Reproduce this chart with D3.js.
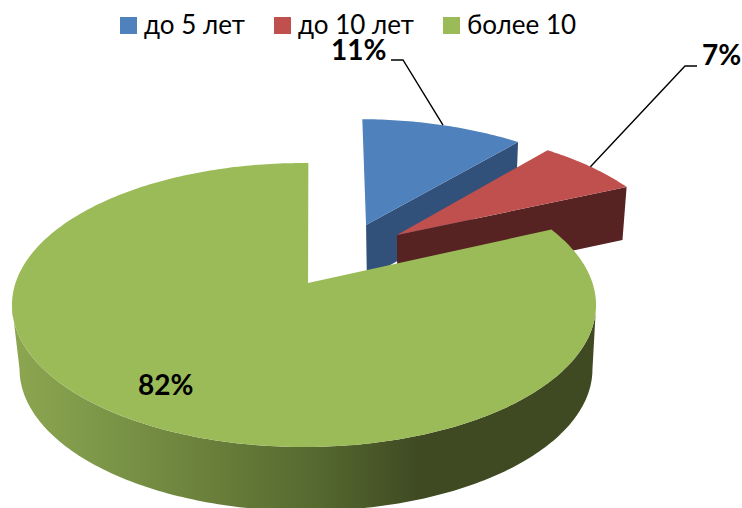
<!DOCTYPE html>
<html>
<head>
<meta charset="utf-8">
<script src="https://cdn.jsdelivr.net/npm/d3@7"></script>
<style>
    html, body { margin: 0; padding: 0; background: #fff; }
    svg { display: block; }
    text { font-family: Lato, "Open Sans", sans-serif; fill: #000; }
</style>
</head>
<body>
<div id="chart"></div>
<script>
const categories = ["до 5 лет", "до 10 лет", "более 10"];
const shares = [11, 7, 82];
const shareLabels = ["11%", "7%", "82%"];
const topColors = ["#4f81bd", "#c0504d", "#9bbb59"];
const sideColors = ["#31507a", "#562222", "#3f4a22"];

// pulled-out offsets of the slices, in disc units (u to the right, v to the back)
const explodeU = [0.23, 0.3406, 0];
const explodeV = [0.4475, 0.366, 0];

const width = 742;
const height = 508;

const svg = d3.select("#chart").append("svg")
    .attr("width", width)
    .attr("height", height);

// Perspective of the disc: the faces are planes of the same cylinder.
// The pulled-out slices sit further back so their wall reads a bit shorter.
const persp = 0.155;
const topPlane = { x0: 304, y0: 283, a: 288.5, b: 138.6 };
const bottomPlane = { x0: 306, y0: 347, a: 283, b: 138.6 };
const pulledBottomPlane = { x0: 306, y0: 336, a: 283, b: 138.6 };

function project(u, v, plane) {
    const w = 1 + persp * v;
    return [plane.x0 + plane.a * u / w, plane.y0 - plane.b * v / w];
}

const tilt = Math.PI / 180; // the first slice starts a degree past 12 o'clock
const arcs = d3.pie().sort(null).value(d => d)
    .startAngle(tilt).endAngle(tilt + 2 * Math.PI)(shares);

function rimPoints(arc, i, plane) {
    const n = Math.max(8, Math.ceil((arc.endAngle - arc.startAngle) * 60));
    return d3.range(n + 1).map(k => {
        const t = arc.startAngle + (arc.endAngle - arc.startAngle) * k / n;
        return project(Math.sin(t) + explodeU[i], Math.cos(t) + explodeV[i], plane);
    });
}

// only the rim between the right and left extremes faces the viewer
function frontRim(points) {
    return points.slice(d3.greatestIndex(points, p => p[0]), d3.leastIndex(points, p => p[0]) + 1);
}

const line = d3.line().curve(d3.curveLinear);

const defs = svg.append("defs");
const wallGradient = defs.append("linearGradient")
    .attr("id", "green-wall")
    .attr("gradientUnits", "userSpaceOnUse")
    .attr("x1", 15).attr("x2", 600)
    .attr("y1", 0).attr("y2", 0);
wallGradient.append("stop").attr("offset", "0%").attr("stop-color", "#8ca550");
wallGradient.append("stop").attr("offset", "12%").attr("stop-color", "#7f9a4a");
wallGradient.append("stop").attr("offset", "33%").attr("stop-color", "#6a803b");
wallGradient.append("stop").attr("offset", "52%").attr("stop-color", "#55682f");
wallGradient.append("stop").attr("offset", "69%").attr("stop-color", "#3f4a22");
wallGradient.append("stop").attr("offset", "100%").attr("stop-color", "#3f4a22");

// Blue and red: cut face towards the viewer, then the top
arcs.slice(0, 2).forEach((arc, i) => {
    const apexTop = project(explodeU[i], explodeV[i], topPlane);
    const apexBottom = project(explodeU[i], explodeV[i], pulledBottomPlane);
    const topRim = rimPoints(arc, i, topPlane);
    const bottomRim = rimPoints(arc, i, pulledBottomPlane);

    svg.append("path")
        .attr("d", line([apexTop, topRim[topRim.length - 1], bottomRim[bottomRim.length - 1], apexBottom]) + "Z")
        .attr("fill", sideColors[i]);

    svg.append("path")
        .attr("d", line([apexTop, ...topRim]) + "Z")
        .attr("fill", topColors[i]);
});

// Green: outer wall with the shading, then the top with its slightly shifted corner
const greenArc = arcs[2];
const greenTop = rimPoints(greenArc, 2, topPlane);
const greenBottom = rimPoints(greenArc, 2, bottomPlane);

svg.append("path")
    .attr("d", line([...frontRim(greenTop), ...frontRim(greenBottom).reverse()]) + "Z")
    .attr("fill", "url(#green-wall)");

svg.append("path")
    .attr("d", line([project(0.014, 0, topPlane), ...greenTop]) + "Z")
    .attr("fill", topColors[2]);

// Leader lines go from the rim middle of each pulled-out slice to its label
const elbows = [[[403, 60], [391, 60]], [[685, 66], [697, 66]]];
arcs.slice(0, 2).forEach((arc, i) => {
    const mid = (arc.startAngle + arc.endAngle) / 2;
    const anchor = project(Math.sin(mid) + explodeU[i], Math.cos(mid) + explodeV[i], topPlane);
    svg.append("path")
        .attr("d", line([anchor, ...elbows[i]]))
        .attr("fill", "none")
        .attr("stroke", "#000")
        .attr("stroke-width", 1.4);
});

const labelPos = [[331, 60], [702, 65], [138, 395]];
svg.selectAll(".share-label")
    .data(shareLabels)
    .join("text")
    .attr("class", "share-label")
    .attr("x", (d, i) => labelPos[i][0])
    .attr("y", (d, i) => labelPos[i][1])
    .attr("font-size", 28)
    .attr("font-weight", 700)
    .text(d => d);

// Legend
const legendX = [120, 274, 443];
const legend = svg.selectAll(".legend-item")
    .data(categories)
    .join("g")
    .attr("class", "legend-item")
    .attr("transform", (d, i) => `translate(${legendX[i]},17)`);

legend.append("rect")
    .attr("width", 17)
    .attr("height", 17)
    .attr("fill", (d, i) => topColors[i]);

legend.append("text")
    .attr("x", 24)
    .attr("y", 17)
    .attr("font-size", 26)
    .text(d => d);
</script>
</body>
</html>
